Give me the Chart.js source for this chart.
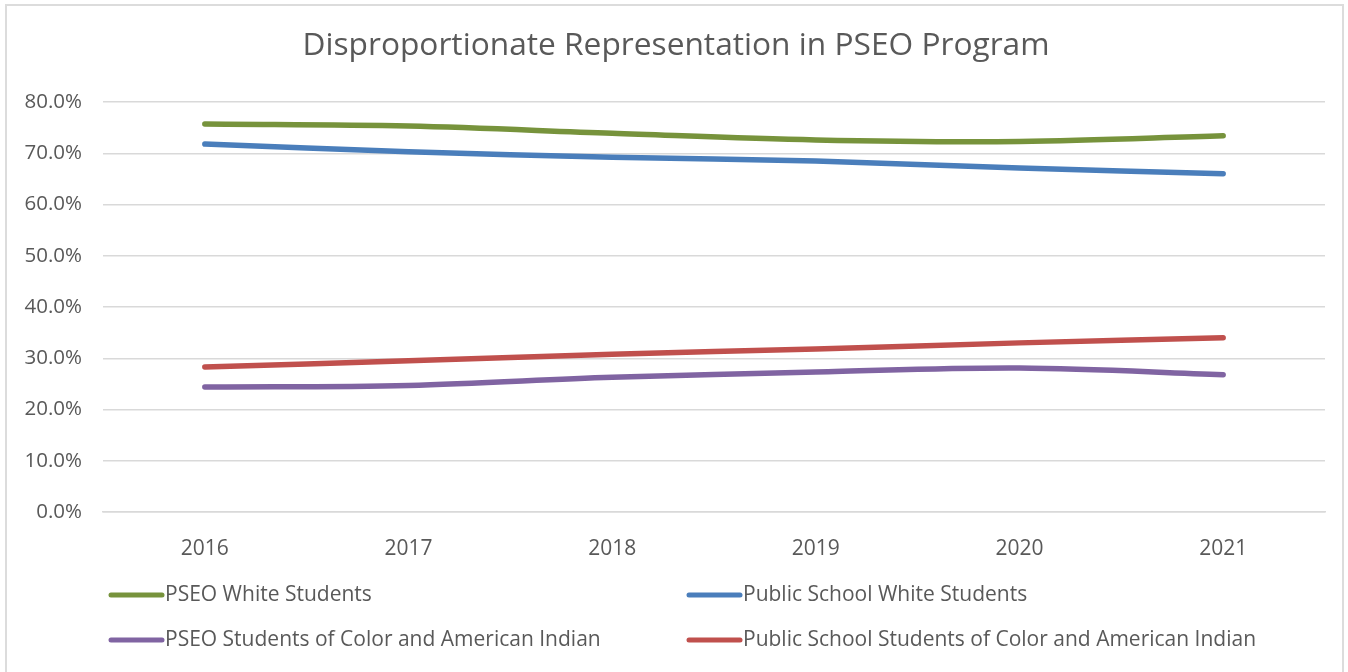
<!DOCTYPE html>
<html>
<head>
<meta charset="utf-8">
<script src="https://cdn.jsdelivr.net/npm/chart.js@4.4.1/dist/chart.umd.min.js"></script>
<style>
  html, body { margin: 0; padding: 0; background: #fff; }
  #wrap { position: relative; width: 1348px; height: 672px; }
  #frame {
    position: absolute; left: 5px; top: 4px; width: 1339px; height: 680px;
    border: 2px solid #dcdcdc; box-sizing: border-box;
  }
  canvas { position: absolute; left: 0; top: 0; }
</style>
</head>
<body>
<div id="wrap">
  <div id="frame"></div>
  <canvas id="chart" width="1348" height="672"></canvas>
</div>
<script>
// Years on the x axis
const years = ['2016', '2017', '2018', '2019', '2020', '2021'];

// Share of students, percent
const pseoWhite = [75.7, 75.3, 73.9, 72.6, 72.3, 73.4];
const publicWhite = [71.8, 70.3, 69.2, 68.5, 67.1, 66.0];
const pseoColor = [24.4, 24.7, 26.3, 27.3, 28.1, 26.8];
const publicColor = [28.3, 29.5, 30.8, 31.8, 33.0, 34.0];

const seriesNames = [
  'PSEO White Students',
  'Public School White Students',
  'PSEO Students of Color and American Indian',
  'Public School Students of Color and American Indian'
];
const seriesColors = ['#77933c', '#4a7ebb', '#8064a2', '#c0504d'];

const FONT = '"Open Sans", sans-serif';
const GREY = '#595959';

// Title and two-column legend drawn on the canvas
const decorations = {
  id: 'decorations',
  afterDraw(chart) {
    const ctx = chart.ctx;
    ctx.save();
    ctx.fillStyle = GREY;
    ctx.font = '31.7px ' + FONT;
    ctx.textAlign = 'center';
    ctx.textBaseline = 'middle';
    ctx.fillText('Disproportionate Representation in PSEO Program', 676, 46);

    const cols = [108, 686];
    const rows = [595, 640];
    ctx.font = '21px ' + FONT;
    ctx.textAlign = 'left';
    chart.data.datasets.forEach((ds, i) => {
      const x = cols[i % 2];
      const y = rows[Math.floor(i / 2)];
      ctx.strokeStyle = ds.borderColor;
      ctx.lineWidth = 5;
      ctx.lineCap = 'round';
      ctx.beginPath();
      ctx.moveTo(x + 3, y);
      ctx.lineTo(x + 54, y);
      ctx.stroke();
      ctx.fillStyle = GREY;
      ctx.fillText(ds.label, x + 57, y);
    });
    ctx.restore();
  }
};

new Chart(document.getElementById('chart').getContext('2d'), {
  type: 'line',
  data: {
    labels: years,
    datasets: [pseoWhite, publicWhite, pseoColor, publicColor].map((data, i) => ({
      label: seriesNames[i],
      data,
      borderColor: seriesColors[i],
      backgroundColor: seriesColors[i],
      borderWidth: 5.5,
      borderCapStyle: 'round',
      pointRadius: 0,
      tension: 0.35,
      fill: false
    }))
  },
  options: {
    responsive: false,
    animation: false,
    layout: { padding: { left: 0, right: 23, top: 102, bottom: 90 } },
    plugins: {
      legend: { display: false },
      title: { display: false },
      tooltip: { enabled: false }
    },
    scales: {
      x: {
        offset: true,
        grid: { display: false },
        border: { display: true, color: '#d9d9d9', width: 1.5 },
        ticks: { color: GREY, font: { family: FONT, size: 21 }, padding: 16 },
        afterFit: s => { s.height = 70; }
      },
      y: {
        min: 0,
        max: 80,
        ticks: {
          stepSize: 10,
          color: GREY,
          font: { family: FONT, size: 20.5 },
          padding: 21,
          callback: v => v.toFixed(1) + '%'
        },
        grid: { color: '#d9d9d9', lineWidth: 1.5, drawTicks: false },
        border: { display: false },
        afterFit: s => { s.width = 103; }
      }
    }
  },
  plugins: [decorations]
});
</script>
</body>
</html>
